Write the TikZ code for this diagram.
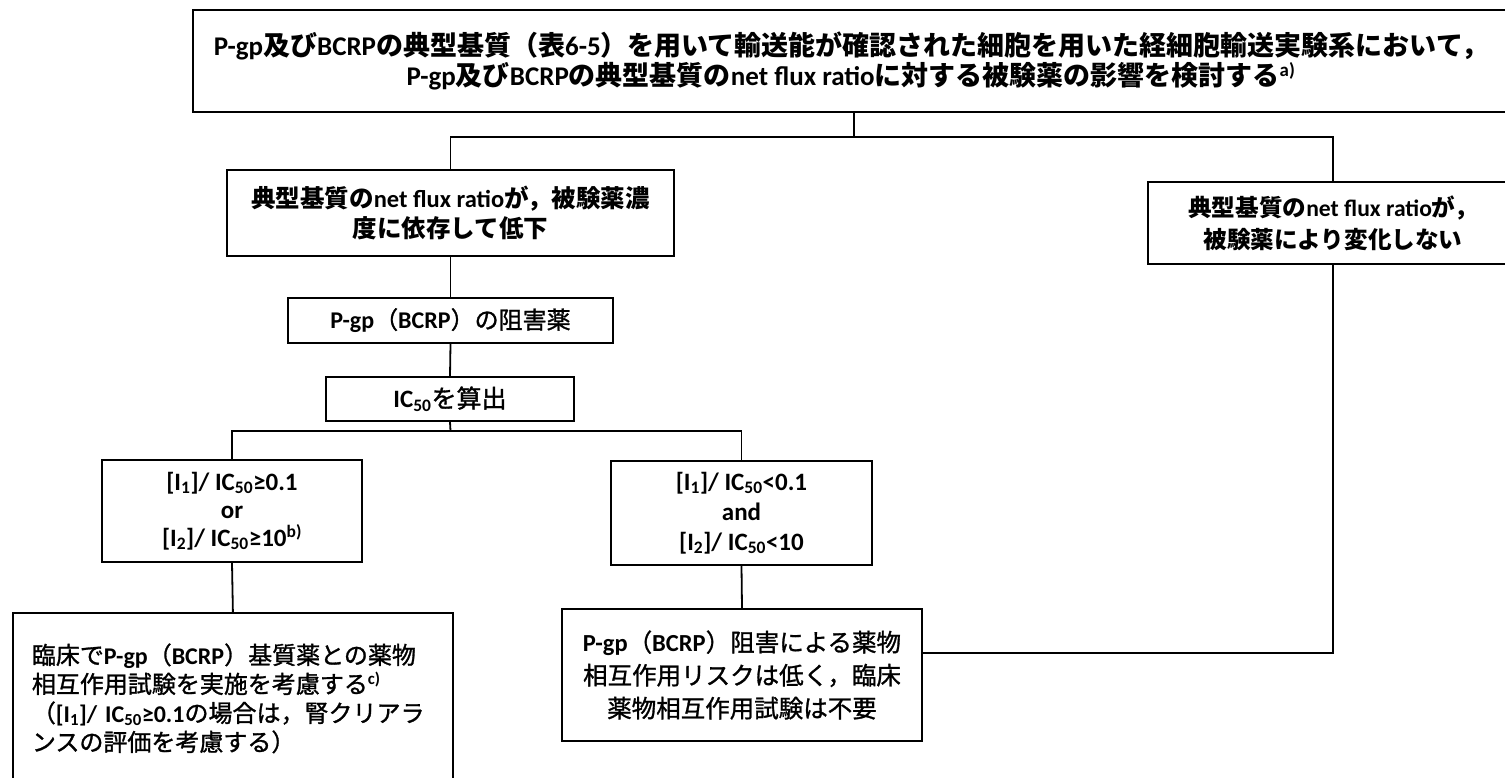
\documentclass[tikz,border=0pt]{standalone}
\usepackage{fontspec}
\setmainfont{Noto Sans CJK JP}
\newfontfamily\enfont{Carlito}
\newfontfamily\jpmed{Noto Sans CJK JP}[FakeBold=1.2]
\newcommand{\entx}[1]{{\enfont\bfseries #1}}
\newcommand{\fsz}[2]{\fontsize{#1}{#2}\selectfont}
\tikzset{
  box/.style={draw, line width=1.8pt, rectangle, inner sep=0pt, align=center},
  conn/.style={line width=1.8pt},
}
\begin{document}
\begin{tikzpicture}[x=1pt,y=-1pt]
\useasboundingbox (0,0) rectangle (1505,777);
\clip (0,0) rectangle (1505,777);
\fill[white] (0,0) rectangle (1505,777);

\node[box, minimum width=1316pt, minimum height=102pt, font=\fsz{27}{30}\bfseries] (top) at (851,61)
 {\entx{P-gp}及び\entx{BCRP}の典型基質（表\entx{6-5}）を用いて輸送能が確認された細胞を用いた経細胞輸送実験系において，\\
  \entx{P-gp}及び\entx{BCRP}の典型基質の\entx{net~flux~ratio}に対する被験薬の影響を検討する\entx{\textsuperscript{a)}}};

\node[box, minimum width=447pt, minimum height=86pt, font=\fsz{24.5}{30}\bfseries] (A) at (450.5,213)
 {典型基質の\entx{net~flux~ratio}が，被験薬濃\\度に依存して低下};

\node[box, minimum width=370pt, minimum height=82pt, font=\fsz{23.6}{32}\bfseries] (B) at (1333,223)
 {典型基質の\entx{net~flux~ratio}が，\\被験薬により変化しない};

\node[box, minimum width=325pt, minimum height=45pt, font=\jpmed\fsz{24}{30}] (P) at (450.5,320.5)
 {\entx{P-gp}（\entx{BCRP}）の阻害薬};

\node[box, minimum width=248pt, minimum height=44pt, font=\jpmed\fsz{25}{30}] (IC) at (450,399)
 {\entx{IC\textsubscript{50}}を算出};

\node[box, minimum width=260pt, minimum height=102pt, font=\fsz{25}{28}] (G) at (232,511)
 {\entx{[I\textsubscript{1}]/~IC\textsubscript{50}≥0.1}\\\entx{or}\\\entx{[I\textsubscript{2}]/~IC\textsubscript{50}≥10\textsuperscript{b)}}};

\node[box, minimum width=261pt, minimum height=104pt, font=\fsz{25}{30}] (Lt) at (741.5,513)
 {\entx{[I\textsubscript{1}]/~IC\textsubscript{50}<0.1}\\\entx{and}\\\entx{[I\textsubscript{2}]/~IC\textsubscript{50}<10}};

\node[box, anchor=north west, minimum width=440pt, minimum height=171pt, text width=402pt, align=left, font=\jpmed\fsz{24}{29}] (C) at (12,612)
 {臨床で\entx{P-gp}（\entx{BCRP}）基質薬との薬物\\
  相互作用試験を実施を考慮する\entx{\textsuperscript{c)}}\\
  （\entx{[I\textsubscript{1}]/~IC\textsubscript{50}≥0.1}の場合は，腎クリアラ\\
  ンスの評価を考慮する）};

\node[box, minimum width=360pt, minimum height=132pt, font=\jpmed\fsz{24.5}{33}] (N) at (742,675)
 {\entx{P-gp}（\entx{BCRP}）阻害による薬物\\相互作用リスクは低く，臨床\\薬物相互作用試験は不要};

\coordinate (j1) at (854,137);
\coordinate (j2) at (450.5,431);
\coordinate (h3) at (0,653);
\draw[conn] (top.south -| j1) -- (j1);
\draw[conn] (A.north) |- (j1) -| (B.north);
\draw[conn] (A.south) -- (P.north);
\draw[conn] (P.south) -- (IC.north);
\draw[conn] (IC.south) -- (j2);
\draw[conn] (G.north) |- (j2) -| (Lt.north);
\draw[conn] (G.south) -- (C.north);
\draw[conn] (Lt.south) -- (N.north);
\draw[conn] (B.south) |- (N.east |- h3);
\end{tikzpicture}
\end{document}
